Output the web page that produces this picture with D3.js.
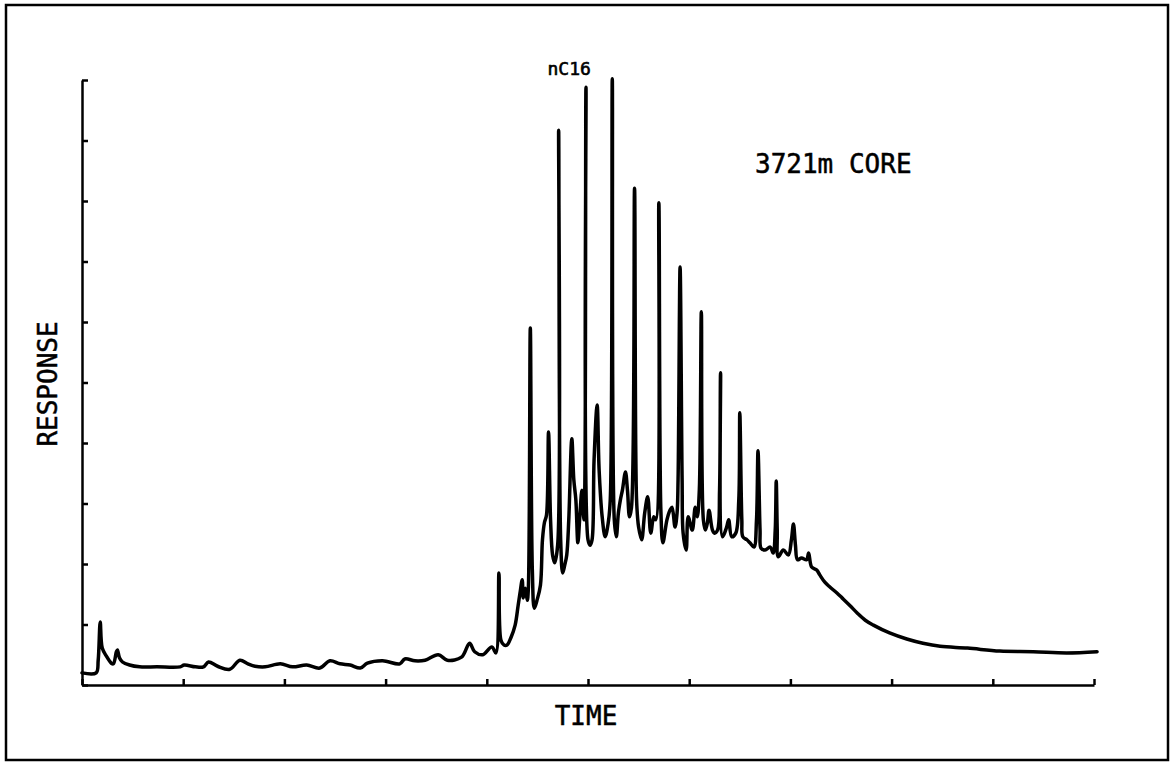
<html>
<head>
    <title>Chromatogram - 3721m core</title>
    <style>
        body { margin: 0; background: white; }
        svg { display: block; }
        text { font-family: "DejaVu Sans Mono", monospace; fill: black; stroke: black; stroke-width: 0.5; }
        .axis path, .axis line { stroke: black; stroke-width: 2.5; }
    </style>
    <script src="https://cdn.jsdelivr.net/npm/d3@7"></script>
</head>
<body>
<div id="chart"></div>
<script>
    // retention time (arbitrary units, 0-100) and detector response (0-100)
    var time = [
        0, 1.4, 1.6, 1.8, 2.0, 2.4, 2.9, 3.1, 3.4, 3.5, 3.7, 4.0, 4.7, 5.7, 7.4, 9.7,
        10.1, 11.2, 12.0, 12.5, 13.4, 14.6, 15.6, 16.4, 17.1, 18.1, 19.6, 20.8, 22.2,
        23.5, 24.5, 25.5, 26.5, 27.5, 28.2, 29.7, 31.4, 31.9, 32.9, 33.9, 35.2, 36.1,
        37.5, 38.3, 38.8, 39.6, 40.5, 40.9, 41.2, 41.4, 41.7, 42.0, 42.4, 42.8, 43.1,
        43.3, 43.5, 43.6, 43.8, 44.0, 44.1, 44.3, 44.5, 44.7, 44.96, 45.3, 45.5, 45.7,
        45.9, 46.1, 46.3, 46.5, 46.7, 47.0, 47.1, 47.3, 47.5, 47.7, 47.9, 48.1, 48.4,
        48.6, 48.8, 49.0, 49.2, 49.4, 49.6, 49.8, 50.0, 50.2, 50.4, 50.6, 50.9, 51.1,
        51.4, 51.7, 52.0, 52.2, 52.4, 52.6, 52.8, 53.0, 53.2, 53.4, 53.7, 53.9, 54.1,
        54.3, 54.6, 54.8, 55.0, 55.3, 55.6, 55.9, 56.2, 56.5, 56.7, 57.0, 57.2, 57.4,
        57.8, 58.1, 58.3, 58.6, 58.8, 58.9, 59.1, 59.3, 59.4, 59.7, 59.9, 60.3, 60.6,
        60.8, 61.0, 61.2, 61.4, 61.6, 61.8, 61.96, 62.3, 62.5, 62.8, 63.0, 63.1, 63.3,
        63.7, 63.9, 64.2, 64.6, 64.9, 65.0, 65.2, 65.3, 65.7, 66.0, 66.4, 66.65, 66.8,
        67.0, 67.1, 67.5, 68.0, 68.3, 68.5, 68.6, 68.7, 68.8, 69.3, 69.8, 70.1, 70.3,
        70.5, 70.7, 71.1, 71.6, 71.8, 72.1, 72.6, 72.9, 73.4, 73.9, 74.6, 75.1, 75.9,
        76.6, 77.4, 78.2, 79.8, 81.5, 83.1, 84.8, 87.5, 90.7, 94.0, 97.3, 100.3
    ];
    var response = [
        2.0, 2.0, 4.1, 10.4, 6.1, 4.8, 3.6, 3.5, 5.5, 5.8, 4.5, 3.8, 3.3, 3.0, 3.0, 3.0,
        3.3, 3.0, 3.0, 3.8, 3.1, 2.6, 4.1, 3.5, 3.1, 3.0, 3.5, 3.0, 3.3,
        2.8, 4.0, 3.5, 3.3, 2.8, 3.6, 4.0, 3.5, 4.3, 4.0, 4.1, 5.0, 4.1,
        4.6, 6.9, 5.5, 5.0, 6.3, 5.3, 18.5, 7.4, 6.6, 6.6, 7.9, 9.9, 13.2,
        15.4, 17.4, 14.4, 16.0, 14.0, 15.7, 59.0, 19.0, 12.7, 14.0, 16.5, 24.0, 26.9,
        28.1, 41.8, 27.3, 21.5, 20.2, 23.1, 91.7, 24.0, 18.5, 19.8, 21.5, 27.3, 40.7,
        33.9, 30.6, 23.5, 28.1, 32.2, 27.3, 98.8, 24.0, 23.1, 24.0, 37.2, 46.3, 35.5,
        27.8, 24.5, 26.8, 30.6, 100.2, 27.3, 24.5, 28.4, 30.6, 32.2, 35.2, 32.2, 27.8,
        29.4, 82.1, 30.6, 26.1, 24.0, 28.4, 31.1, 25.1, 27.8, 27.3, 79.7, 28.9, 23.5,
        27.3, 28.9, 29.4, 26.1, 28.4, 33.9, 69.1, 33.9, 25.1, 22.3, 27.8, 25.6, 29.4,
        27.8, 32.2, 61.7, 27.3, 25.6, 26.8, 28.9, 25.6, 25.1, 25.6, 32.2, 51.6, 24.5,
        26.1, 27.3, 24.5, 25.1, 30.6, 45.0, 27.3, 24.5, 24.0, 23.5, 22.8, 27.3, 38.7,
        25.6, 22.6, 22.3, 22.8, 21.8, 25.6, 33.7, 25.6, 21.2, 22.3, 21.5, 24.0, 26.6,
        23.1, 20.7, 21.0, 20.7, 21.8, 19.5, 19.0, 18.2, 17.0, 16.2, 15.2, 14.4, 13.1,
        11.9, 10.7, 9.9, 8.6, 7.6, 6.9, 6.4, 6.1, 5.6, 5.5, 5.3, 5.5
    ];

    var xTicks = [0, 10, 20, 30, 40, 50, 60, 70, 80, 90, 100];
    var yTicks = [0, 10, 20, 30, 40, 50, 60, 70, 80, 90, 100];

    var title = '3721m CORE';
    var peakLabel = { text: 'nC16', t: 46.0, r: 100.8 };

    var width = 1175, height = 763;

    var svg = d3.select('#chart')
            .append('svg')
            .attr('width', width)
            .attr('height', height);

    // outer frame
    svg.append('rect')
            .attr('x', 6)
            .attr('y', 5)
            .attr('width', 1162)
            .attr('height', 755)
            .attr('fill', 'none')
            .attr('stroke', 'black')
            .attr('stroke-width', 2.5);

    var x = d3.scaleLinear().domain([0, 100]).range([82, 1094]);
    var y = d3.scaleLinear().domain([0, 100]).range([685, 80]);

    svg.append('g')
            .attr('class', 'axis')
            .attr('transform', 'translate(0,' + y(0) + ')')
            .call(d3.axisBottom(x)
                .tickValues(xTicks)
                .tickSize(-6)
                .tickSizeOuter(0)
                .tickFormat(''));

    svg.append('g')
            .attr('class', 'axis')
            .attr('transform', 'translate(' + x(0) + ',0)')
            .call(d3.axisLeft(y)
                .tickValues(yTicks)
                .tickSize(-6)
                .tickSizeOuter(0)
                .tickFormat(''));

    var line = d3.line()
            .x(function(d, i) { return x(time[i]); })
            .y(function(d, i) { return y(response[i]); })
            .curve(d3.curveCatmullRom.alpha(0.5));

    svg.append('path')
            .datum(time)
            .attr('d', line)
            .attr('fill', 'none')
            .attr('stroke', 'black')
            .attr('stroke-width', 3.5)
            .attr('stroke-linejoin', 'round')
            .attr('stroke-linecap', 'round');

    // labels
    svg.append('text')
            .attr('x', 755)
            .attr('y', 173)
            .style('font-size', '26px')
            .text(title);

    svg.append('text')
            .attr('x', 586)
            .attr('y', 725)
            .attr('text-anchor', 'middle')
            .style('font-size', '26px')
            .text('TIME');

    svg.append('text')
            .attr('transform', 'translate(57,384) rotate(-90)')
            .attr('text-anchor', 'middle')
            .style('font-size', '26px')
            .text('RESPONSE');

    svg.append('text')
            .attr('x', x(peakLabel.t))
            .attr('y', y(peakLabel.r))
            .style('font-size', '18px')
            .style('stroke-width', 0.6)
            .text(peakLabel.text);
</script>
</body>
</html>
